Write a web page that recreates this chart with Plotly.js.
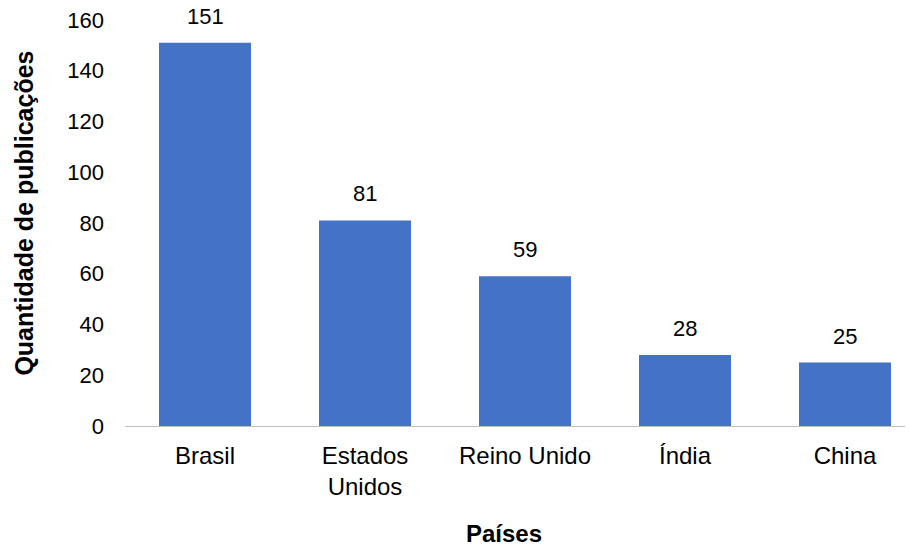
<!DOCTYPE html>
<html>
<head>
<meta charset="utf-8">
<script src="https://cdn.plot.ly/plotly-3.0.1.min.js"></script>
<style>html,body{margin:0;padding:0;background:#fff;}</style>
</head>
<body>
<div id="chart" style="width:909px;height:550px;"></div>
<script>
const countries = ["Brasil", "Estados<br>Unidos", "Reino Unido", "Índia", "China"];
const publications = [151, 81, 59, 28, 25];
const yTicks = [0, 20, 40, 60, 80, 100, 120, 140, 160];

const font = "Liberation Sans, Arial, sans-serif";
const trace = {
  type: "bar",
  x: countries,
  y: publications,
  marker: {color: "#4472C4"},
  hoverinfo: "none"
};
const valueLabels = countries.map((c, i) => ({
  x: c, y: publications[i], xref: "x", yref: "y",
  text: String(publications[i]), showarrow: false,
  yanchor: "bottom", yshift: 12,
  font: {family: font, size: 22, color: "#000"}
}));
const yTitle = {
  xref: "paper", yref: "paper", x: -0.13, y: 0.5,
  xanchor: "center", yanchor: "middle", textangle: -90,
  text: "<b>Quantidade de publicações</b>", showarrow: false,
  yshift: 10,
  font: {family: font, size: 25, color: "#000"}
};
const xTitle = {
  xref: "paper", yref: "paper", x: 0.486, y: -0.266,
  xanchor: "center", yanchor: "middle",
  text: "<b>Países</b>", showarrow: false,
  font: {family: font, size: 24, color: "#000"}
};
const layout = {
  width: 909, height: 550,
  margin: {l: 125, r: 4, t: 20, b: 124},
  paper_bgcolor: "#fff", plot_bgcolor: "#fff",
  bargap: 0.425,
  showlegend: false,
  font: {family: font, size: 22, color: "#000"},
  annotations: valueLabels.concat([yTitle, xTitle]),
  xaxis: {
    type: "category",
    range: [-0.5, 4.375],
    showline: true, linecolor: "#BFBFBF", linewidth: 1,
    ticks: "", tickfont: {family: font, size: 24, color: "#000"},
    ticklabelstandoff: 8,
    automargin: false
  },
  yaxis: {
    range: [0, 160],
    tickvals: yTicks,
    showgrid: false, zeroline: false, showline: false,
    ticks: "", tickfont: {family: font, size: 22, color: "#000"},
    ticklabelstandoff: 20,
    automargin: false
  }
};
Plotly.newPlot("chart", [trace], layout, {displayModeBar: false, staticPlot: true});
</script>
</body>
</html>
